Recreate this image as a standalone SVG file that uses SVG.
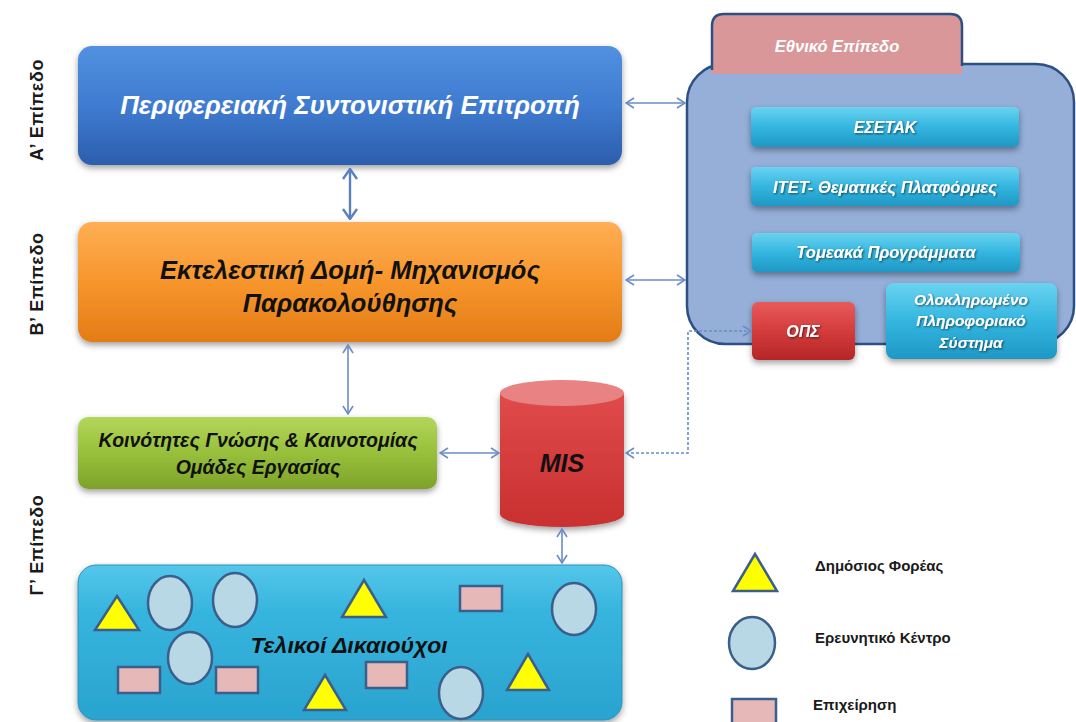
<svg xmlns="http://www.w3.org/2000/svg" width="1076" height="722" viewBox="0 0 1076 722">
<defs>
<style>
.lvl{font-family:"Liberation Sans",Arial,sans-serif;font-weight:bold;font-size:18px;fill:#1a1a1a;letter-spacing:0.6px}
.bi{font-family:"Liberation Sans",Arial,sans-serif;font-weight:bold;font-style:italic;text-anchor:middle}
.wt{fill:#ffffff}
.bk{fill:#111111}
.leg{font-family:"Liberation Sans",Arial,sans-serif;font-weight:bold;font-size:15px;fill:#1a1a1a}
.conn{fill:none;stroke:#6a8cc7;stroke-width:1.6}
.tri{fill:#ffff00;stroke:#3b5f8c;stroke-width:2.5;stroke-linejoin:miter}
.cir{fill:#b9d8e6;stroke:#3b5f8c;stroke-width:2.5}
.rct{fill:#e6b8b7;stroke:#3b5f8c;stroke-width:2.5}
</style>
<linearGradient id="gBlue" x1="0" y1="0" x2="0" y2="1"><stop offset="0" stop-color="#5291e0"/><stop offset="0.5" stop-color="#3f7bd0"/><stop offset="1" stop-color="#2c5eae"/></linearGradient>
<linearGradient id="gOrange" x1="0" y1="0" x2="0" y2="1"><stop offset="0" stop-color="#ffae55"/><stop offset="0.5" stop-color="#f7962c"/><stop offset="1" stop-color="#e37c16"/></linearGradient>
<linearGradient id="gGreen" x1="0" y1="0" x2="0" y2="1"><stop offset="0" stop-color="#b3d65a"/><stop offset="0.5" stop-color="#98c03b"/><stop offset="1" stop-color="#7ea22a"/></linearGradient>
<linearGradient id="gCyan" x1="0" y1="0" x2="0" y2="1"><stop offset="0" stop-color="#6ad3f0"/><stop offset="0.5" stop-color="#33b6e0"/><stop offset="1" stop-color="#1f97c4"/></linearGradient>
<linearGradient id="gCyanBig" x1="0" y1="0" x2="0" y2="1"><stop offset="0" stop-color="#55c6ea"/><stop offset="0.3" stop-color="#36b5de"/><stop offset="1" stop-color="#2aa3cf"/></linearGradient>
<linearGradient id="gRed" x1="0" y1="0" x2="0" y2="1"><stop offset="0" stop-color="#e85a5a"/><stop offset="0.5" stop-color="#d43c3c"/><stop offset="1" stop-color="#b52626"/></linearGradient>
<linearGradient id="gCyl" x1="0" y1="0" x2="0" y2="1"><stop offset="0" stop-color="#e04a4a"/><stop offset="1" stop-color="#c93030"/></linearGradient>
<filter id="sh" x="-10%" y="-20%" width="120%" height="150%"><feDropShadow dx="0" dy="3" stdDeviation="3" flood-color="#000" flood-opacity="0.38"/></filter>
<filter id="tsh" x="-5%" y="-20%" width="110%" height="150%"><feDropShadow dx="1" dy="1" stdDeviation="0.8" flood-color="#000" flood-opacity="0.6"/></filter>
<marker id="ah" viewBox="0 0 10 12" refX="9" refY="6" markerWidth="10" markerHeight="12" markerUnits="userSpaceOnUse" orient="auto-start-reverse"><path d="M1,1 L9,6 L1,11" fill="none" stroke="#6a8cc7" stroke-width="1.6"/></marker>
<marker id="ahb" viewBox="0 0 12 16" refX="11" refY="8" markerWidth="12" markerHeight="16" markerUnits="userSpaceOnUse" orient="auto-start-reverse"><path d="M1,1 L11,8 L1,15" fill="none" stroke="#5a80c0" stroke-width="2.4"/></marker>
</defs>
<rect width="1076" height="722" fill="#ffffff"/>

<g id="level-labels">
<text class="lvl" transform="translate(43,110) rotate(-90)" text-anchor="middle">Α’ Επίπεδο</text>
<text class="lvl" transform="translate(43,284) rotate(-90)" text-anchor="middle">Β’ Επίπεδο</text>
<text class="lvl" transform="translate(43,545) rotate(-90)" text-anchor="middle">Γ’ Επίπεδο</text>
</g>

<g id="national-level">
<rect x="687" y="64" width="387" height="280" rx="38" fill="#95afd9" stroke="#2c4f85" stroke-width="2.5"/>
<path d="M712,74 L712,26 Q712,14 724,14 L950,14 Q962,14 962,26 L962,74 Z" fill="#d9979a" stroke="none"/>
<path d="M712,70 L712,26 Q712,14 724,14 L950,14 Q962,14 962,26 L962,66" fill="none" stroke="#2c4f85" stroke-width="2.5"/>
<text class="bi wt" x="837" y="52" font-size="16.5">Εθνικό Επίπεδο</text>
</g>

<g id="esetak">
<rect x="751" y="107" width="268" height="40" rx="5" fill="url(#gCyan)" filter="url(#sh)"/>
<text class="bi wt" x="885" y="133" font-size="16" filter="url(#tsh)">ΕΣΕΤΑΚ</text>
</g>
<g id="itet">
<rect x="751" y="167" width="268" height="39" rx="5" fill="url(#gCyan)" filter="url(#sh)"/>
<text class="bi wt" x="885" y="193" font-size="16.5" filter="url(#tsh)">ΙΤΕΤ- Θεματικές Πλατφόρμες</text>
</g>
<g id="tomeaka">
<rect x="752" y="233" width="268" height="39" rx="5" fill="url(#gCyan)" filter="url(#sh)"/>
<text class="bi wt" x="886" y="258" font-size="16.5" filter="url(#tsh)">Τομεακά Προγράμματα</text>
</g>
<g id="ops">
<rect x="752" y="302" width="103" height="58" rx="6" fill="url(#gRed)" filter="url(#sh)"/>
<text class="bi wt" x="803" y="337" font-size="16" filter="url(#tsh)">ΟΠΣ</text>
</g>
<g id="integrated-is">
<rect x="886" y="283" width="171" height="76" rx="8" fill="url(#gCyan)" filter="url(#sh)"/>
<text class="bi wt" x="971" y="305" font-size="15.5" filter="url(#tsh)">Ολοκληρωμένο</text>
<text class="bi wt" x="971" y="326" font-size="15.5" filter="url(#tsh)">Πληροφοριακό</text>
<text class="bi wt" x="971" y="348" font-size="15.5" filter="url(#tsh)">Σύστημα</text>
</g>

<g id="regional-committee">
<rect x="78" y="46" width="544" height="119" rx="14" fill="url(#gBlue)" filter="url(#sh)"/>
<text class="bi wt" x="350" y="114" font-size="26">Περιφερειακή Συντονιστική Επιτροπή</text>
</g>

<g id="executive-structure">
<rect x="78" y="222" width="544" height="120" rx="14" fill="url(#gOrange)" filter="url(#sh)"/>
<text class="bi bk" x="350" y="279" font-size="25.5">Εκτελεστική Δομή- Μηχανισμός</text>
<text class="bi bk" x="350" y="312" font-size="25.5">Παρακολούθησης</text>
</g>

<g id="communities">
<rect x="78" y="417" width="359" height="72" rx="10" fill="url(#gGreen)" filter="url(#sh)"/>
<text class="bi bk" x="258" y="447" font-size="19.5">Κοινότητες Γνώσης &amp; Καινοτομίας</text>
<text class="bi bk" x="258" y="474" font-size="19.5">Ομάδες Εργασίας</text>
</g>

<g id="mis">
<path d="M500,393 L500,514 A62,13 0 0 0 624,514 L624,393 Z" fill="url(#gCyl)" filter="url(#sh)"/>
<ellipse cx="562" cy="393" rx="62" ry="13" fill="#e98282"/>
<text class="bi bk" x="562" y="472" font-size="25">MIS</text>
</g>

<g id="beneficiaries">
<rect x="78" y="565" width="544" height="155" rx="18" fill="url(#gCyanBig)" stroke="#2b93bd" stroke-width="1" filter="url(#sh)"/>
<polygon class="tri" points="117,596 139,630 95,630"/>
<ellipse class="cir" cx="170" cy="603" rx="22" ry="27"/>
<ellipse class="cir" cx="235" cy="600" rx="22" ry="27"/>
<polygon class="tri" points="364,580 386,617 342,617"/>
<rect class="rct" x="460" y="586" width="42" height="25"/>
<ellipse class="cir" cx="574" cy="609" rx="22" ry="26"/>
<ellipse class="cir" cx="190" cy="658" rx="22" ry="26"/>
<rect class="rct" x="118" y="667" width="42" height="26"/>
<rect class="rct" x="216" y="667" width="42" height="26"/>
<polygon class="tri" points="325,675 346,710 304,710"/>
<rect class="rct" x="366" y="662" width="41" height="26"/>
<ellipse class="cir" cx="461" cy="693" rx="22" ry="26"/>
<polygon class="tri" points="528,654 549,690 507,690"/>
<text class="bi bk" x="349" y="653" font-size="23">Τελικοί Δικαιούχοι</text>
</g>

<g id="legend">
<polygon class="tri" points="755,554 777,591 733,591"/>
<text class="leg" x="815" y="571">Δημόσιος Φορέας</text>
<ellipse class="cir" cx="752" cy="643" rx="23" ry="26"/>
<text class="leg" x="815" y="643">Ερευνητικό Κέντρο</text>
<rect class="rct" x="732" y="699" width="44" height="26"/>
<text class="leg" x="813" y="710">Επιχείρηση</text>
</g>

<g id="connectors">
<line class="conn" x1="626" y1="103" x2="685" y2="103" marker-start="url(#ah)" marker-end="url(#ah)"/>
<line class="conn" x1="626" y1="280" x2="685" y2="280" marker-start="url(#ah)" marker-end="url(#ah)"/>
<line fill="none" stroke="#5a80c0" stroke-width="2.4" x1="350" y1="169" x2="350" y2="219" marker-start="url(#ahb)" marker-end="url(#ahb)"/>
<line class="conn" x1="348" y1="345" x2="348" y2="414" marker-start="url(#ah)" marker-end="url(#ah)"/>
<line class="conn" x1="440" y1="453" x2="499" y2="453" marker-start="url(#ah)" marker-end="url(#ah)"/>
<line class="conn" x1="562" y1="529" x2="562" y2="563" marker-start="url(#ah)" marker-end="url(#ah)"/>
<path class="conn" d="M626,453 L688,453 L688,331 L751,331" stroke-dasharray="3 2" marker-start="url(#ah)" marker-end="url(#ah)"/>
</g>
</svg>
